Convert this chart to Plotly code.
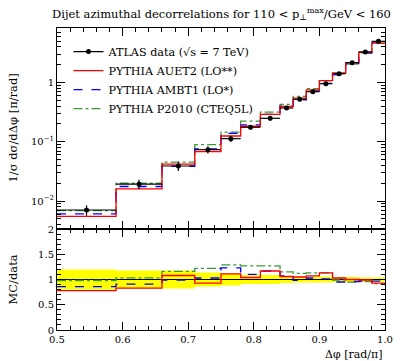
import math
import plotly.graph_objects as go

# ---- data ----
bin_edges = [0.5, 0.59, 0.66, 0.71, 0.75, 0.78, 0.81, 0.84, 0.86, 0.88,
             0.90, 0.92, 0.94, 0.96, 0.98, 1.0]
data_y = [0.00708, 0.0194, 0.0391, 0.0736, 0.113, 0.176, 0.249, 0.372,
          0.521, 0.700, 0.954, 1.41, 2.16, 3.27, 4.95]
data_err = [0.0014, 0.0035, 0.0070, 0.0103, 0.0136, 0.0158, 0.0224, 0.026,
            0.031, 0.042, 0.057, 0.070, 0.108, 0.131, 0.198]
auet2 = [0.00552, 0.0161, 0.0422, 0.0684, 0.1254, 0.183, 0.291, 0.394,
         0.547, 0.749, 1.078, 1.452, 2.16, 3.237, 4.60]
ambt1 = [0.00609, 0.01765, 0.0387, 0.0758, 0.139, 0.1936, 0.291, 0.398,
         0.511, 0.721, 0.964, 1.34, 2.074, 3.172, 4.80]
p2010 = [0.00694, 0.0200, 0.0454, 0.0898, 0.1458, 0.2235, 0.316, 0.428,
         0.5835, 0.791, 1.078, 1.396, 2.052, 3.139, 4.554]

series_names = ["PYTHIA AUET2 (LO**)", "PYTHIA AMBT1 (LO*)", "PYTHIA P2010 (CTEQ5L)"]
series_colors = ["#ff0000", "#0000ff", "#3a9a3a"]
series_dash = ["solid", "dash", "dashdot"]

FONT = "DejaVu Serif"

centers = [(a + b) / 2 for a, b in zip(bin_edges[:-1], bin_edges[1:])]
halfw = [(b - a) / 2 for a, b in zip(bin_edges[:-1], bin_edges[1:])]


def step(vals):
    return list(bin_edges), list(vals) + [vals[-1]]


fig = go.Figure()

# ---- lower panel: ratio ----
band_hi = [1 + e / d for e, d in zip(data_err, data_y)]
band_lo = [1 - e / d for e, d in zip(data_err, data_y)]
x, y = step(band_lo)
fig.add_trace(go.Scatter(x=x, y=y, mode="lines", line=dict(width=0, shape="hv"),
                         showlegend=False, hoverinfo="skip", xaxis="x", yaxis="y"))
x, y = step(band_hi)
fig.add_trace(go.Scatter(x=x, y=y, mode="lines", line=dict(width=0, shape="hv"),
                         fill="tonexty", fillcolor="#ffff00",
                         showlegend=False, hoverinfo="skip", xaxis="x", yaxis="y"))
fig.add_trace(go.Scatter(x=[bin_edges[0], bin_edges[-1]], y=[1, 1], mode="lines",
                         line=dict(color="black", width=1.2), showlegend=False,
                         xaxis="x", yaxis="y"))
for vals, c, d in zip([p2010, ambt1, auet2], series_colors[::-1], series_dash[::-1]):
    r = [v / dd for v, dd in zip(vals, data_y)]
    x, y = step(r)
    fig.add_trace(go.Scatter(x=x, y=y, mode="lines",
                             line=dict(color=c, width=1.3, dash=d, shape="hv"),
                             showlegend=False, xaxis="x", yaxis="y"))

# ---- upper panel ----
for vals, c, d in zip([p2010, ambt1, auet2], series_colors[::-1], series_dash[::-1]):
    x, y = step(vals)
    fig.add_trace(go.Scatter(x=x, y=y, mode="lines",
                             line=dict(color=c, width=1.3, dash=d, shape="hv"),
                             showlegend=False, xaxis="x2", yaxis="y2"))
fig.add_trace(go.Scatter(x=centers, y=data_y, mode="markers",
                         marker=dict(color="black", size=5),
                         error_y=dict(type="data", array=data_err, color="black",
                                      thickness=1.2, width=0),
                         error_x=dict(type="data", array=halfw, color="black",
                                      thickness=1.2, width=0),
                         showlegend=False, xaxis="x2", yaxis="y2"))

# legend entries
fig.add_trace(go.Scatter(x=[None], y=[None], mode="lines+markers",
                         name="ATLAS data (√s = 7 TeV)",
                         line=dict(color="black", width=1.3),
                         marker=dict(color="black", size=5),
                         xaxis="x2", yaxis="y2"))
for n, c, d in zip(series_names, series_colors, series_dash):
    fig.add_trace(go.Scatter(x=[None], y=[None], mode="lines", name=n,
                             line=dict(color=c, width=1.3, dash=d),
                             xaxis="x2", yaxis="y2"))

split = 101 / 302
xcommon = dict(range=[0.5, 1.0], dtick=0.1, tick0=0.5, ticks="inside", ticklen=8,
               tickwidth=1, tickcolor="black", mirror="allticks", showline=True,
               linecolor="black", linewidth=1, showgrid=False, zeroline=False,
               minor=dict(dtick=0.02, ticks="inside", ticklen=4, tickcolor="black",
                          tickwidth=1, showgrid=False))

log_minor = [m * 10 ** k for k in range(-3, 1) for m in range(2, 10)]

fig.update_layout(
    width=403, height=361,
    margin=dict(l=57, r=10, t=28, b=31),
    paper_bgcolor="white", plot_bgcolor="white",
    font=dict(family=FONT, size=10, color="black"),
    xaxis=dict(**xcommon, anchor="y", domain=[0, 1], tickformat=".1f",
               tickfont=dict(size=10)),
    xaxis2=dict(**xcommon, anchor="y2", domain=[0, 1], matches="x",
                showticklabels=False),
    yaxis=dict(domain=[0, split], range=[0, 2], tickvals=[0, 0.5, 1, 1.5, 2],
               ticktext=["0", "0.5", "1", "1.5", "2"],
               ticks="inside", ticklen=8, tickcolor="black", mirror="allticks",
               showline=True, linecolor="black", showgrid=False, zeroline=False,
               tickfont=dict(size=10),
               minor=dict(dtick=0.1, ticks="inside", ticklen=4, tickcolor="black",
                          showgrid=False)),
    yaxis2=dict(domain=[split, 1], type="log", range=[-2.47, 0.919],
                tickvals=[0.01, 0.1, 1],
                ticktext=["10<sup>−2</sup>", "10<sup>−1</sup>", "1"],
                ticks="inside", ticklen=8, tickcolor="black", mirror="allticks",
                showline=True, linecolor="black", showgrid=False, zeroline=False,
                tickfont=dict(size=10),
                minor=dict(tickvals=log_minor, ticks="inside", ticklen=4,
                           tickcolor="black", showgrid=False)),
    legend=dict(x=0.035, y=0.97, xanchor="left", yanchor="top",
                traceorder="normal",
                bgcolor="rgba(0,0,0,0)", font=dict(size=11.2, family=FONT),
                tracegroupgap=0, itemwidth=30),
    showlegend=True,
)

fig.add_annotation(text="Dijet azimuthal decorrelations for 110 &lt; p<sub>⊥</sub><sup>max</sup>/GeV &lt; 160",
                   xref="paper", yref="paper", x=0.5, y=1, yshift=4,
                   xanchor="center", yanchor="bottom", showarrow=False,
                   font=dict(size=11.5, family=FONT))
fig.add_annotation(text="1/σ dσ/dΔφ [π/rad]", xref="paper", yref="paper",
                   x=0, xshift=-45, y=(1 + split) / 2, textangle=-90,
                   xanchor="center", yanchor="middle", showarrow=False,
                   font=dict(size=11.5, family=FONT))
fig.add_annotation(text="MC/data", xref="paper", yref="paper",
                   x=0, xshift=-45, y=split / 2, textangle=-90,
                   xanchor="center", yanchor="middle", showarrow=False,
                   font=dict(size=11.5, family=FONT))
fig.add_annotation(text="Δφ [rad/π]", xref="paper", yref="paper",
                   x=1, y=0, yshift=-16, xanchor="right", yanchor="top",
                   showarrow=False, font=dict(size=11, family=FONT))

fig.write_html("out.html")
